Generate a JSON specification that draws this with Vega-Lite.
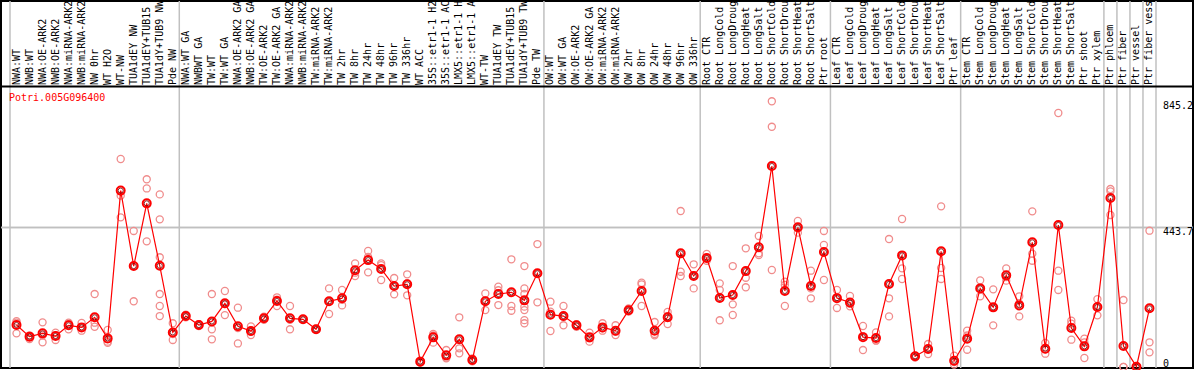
{
  "$schema": "https://vega.github.io/schema/vega-lite/v6.json",
  "width": 1192,
  "height": 367,
  "autosize": {"type": "none"},
  "padding": {"left": 1, "top": 1, "right": 1, "bottom": 2},
  "background": "white",
  "config": {"view": {"stroke": "black", "strokeWidth": 2}, "font": "DejaVu Sans Mono"},
  "params": [
    {"name": "cats", "value": ["NWA:WT","NWB:WT","NWA:OE-ARK2","NWB:OE-ARK2","NWA:miRNA-ARK2","NWB:miRNA-ARK2","NW 0hr","WT H2O","WT-NW","TUA1dEY NW","TUA1dEY+TUB15 NW","TUA1dY+TUB9 NW","Pde NW","NWA:WT GA","NWBWT GA","TW:WT","TW:WT GA","NWA:OE-ARK2 GA","NWB:OE-ARK2 GA","TW:OE-ARK2","TW:OE-ARK2 GA","NWA:miRNA-ARK2 GA","NWB:miRNA-ARK2 GA","TW:miRNA-ARK2","TW:miRNA-ARK2 GA","TW 2hr","TW 8hr","TW 24hr","TW 48hr","TW 96hr","TW 336hr","WT ACC","35S::etr1-1 H2O","35S::etr1-1 ACC","LMX5::etr1-1 H2O","LMX5::etr1-1 ACC","WT-TW","TUA1dEY TW","TUA1dEY+TUB15 TW","TUA1dY+TUB9 TW","Pde TW","OW:WT","OW:WT GA","OW:OE-ARK2","OW:OE-ARK2 GA","OW:miRNA-ARK2","OW:miRNA-ARK2 GA","OW 2hr","OW 8hr","OW 24hr","OW 48hr","OW 96hr","OW 336hr","Root CTR","Root LongCold","Root LongDrought","Root LongHeat","Root LongSalt","Root ShortCold","Root ShortDrought","Root ShortHeat","Root ShortSalt","Ptr root","Leaf CTR","Leaf LongCold","Leaf LongDrought","Leaf LongHeat","Leaf LongSalt","Leaf ShortCold","Leaf ShortDrought","Leaf ShortHeat","Leaf ShortSalt","Ptr leaf","Stem CTR","Stem LongCold","Stem LongDrought","Stem LongHeat","Stem LongSalt","Stem ShortCold","Stem ShortDrought","Stem ShortHeat","Stem ShortSalt","Ptr shoot","Ptr xylem","Ptr phloem","Ptr fiber","Ptr vessel","Ptr fiber vessel"]}
  ],
  "datasets": {
    "seps": [{"c": "NWA:WT"}, {"c": "NWA:WT GA"}, {"c": "OW:WT"}, {"c": "Root CTR"}, {"c": "Leaf CTR"}, {"c": "Stem CTR"}, {"c": "Ptr phloem"}, {"c": "Ptr fiber"}, {"c": "Ptr vessel"}, {"c": "Ptr fiber vessel"}],
    "lastsep": [{"c": "Ptr fiber vessel"}],
    "gene": [{"c": "NWA:WT", "t": "Potri.005G096400"}],
    "ylabs": [{"v": 443.7, "lab": "443.7"}, {"v": 845.2, "lab": "845.2"}],
    "ylab0": [{"v": 0, "lab": "0"}],
    "means": [
      {"c": "NWA:WT", "v": 133.6}, {"c": "NWB:WT", "v": 96.5}, {"c": "NWA:OE-ARK2", "v": 107}, {"c": "NWB:OE-ARK2", "v": 98.6},
      {"c": "NWA:miRNA-ARK2", "v": 132.6}, {"c": "NWB:miRNA-ARK2", "v": 126}, {"c": "NW 0hr", "v": 158}, {"c": "WT H2O", "v": 91},
      {"c": "WT-NW", "v": 561}, {"c": "TUA1dEY NW", "v": 321}, {"c": "TUA1dEY+TUB15 NW", "v": 520.5}, {"c": "TUA1dY+TUB9 NW", "v": 322},
      {"c": "Pde NW", "v": 110}, {"c": "NWA:WT GA", "v": 162}, {"c": "NWBWT GA", "v": 133.6}, {"c": "TW:WT", "v": 145},
      {"c": "TW:WT GA", "v": 202.5}, {"c": "NWA:OE-ARK2 GA", "v": 129.4}, {"c": "NWB:OE-ARK2 GA", "v": 114.5}, {"c": "TW:OE-ARK2", "v": 154.8},
      {"c": "TW:OE-ARK2 GA", "v": 210}, {"c": "NWA:miRNA-ARK2 GA", "v": 154.8}, {"c": "NWB:miRNA-ARK2 GA", "v": 151.6}, {"c": "TW:miRNA-ARK2", "v": 120},
      {"c": "TW:miRNA-ARK2 GA", "v": 208.9}, {"c": "TW 2hr", "v": 218.4}, {"c": "TW 8hr", "v": 307.5}, {"c": "TW 24hr", "v": 340},
      {"c": "TW 48hr", "v": 311.7}, {"c": "TW 96hr", "v": 257.6}, {"c": "TW 336hr", "v": 263}, {"c": "WT ACC", "v": 17},
      {"c": "35S::etr1-1 H2O", "v": 94.3}, {"c": "35S::etr1-1 ACC", "v": 37}, {"c": "LMX5::etr1-1 H2O", "v": 88}, {"c": "LMX5::etr1-1 ACC", "v": 22},
      {"c": "WT-TW", "v": 208.9}, {"c": "TUA1dEY TW", "v": 232}, {"c": "TUA1dEY+TUB15 TW", "v": 237.5}, {"c": "TUA1dY+TUB9 TW", "v": 212},
      {"c": "Pde TW", "v": 298}, {"c": "OW:WT", "v": 166.3}, {"c": "OW:WT GA", "v": 162}, {"c": "OW:OE-ARK2", "v": 132.6},
      {"c": "OW:OE-ARK2 GA", "v": 94.3}, {"c": "OW:miRNA-ARK2", "v": 126}, {"c": "OW:miRNA-ARK2 GA", "v": 115.5}, {"c": "OW 2hr", "v": 180.3},
      {"c": "OW 8hr", "v": 241.7}, {"c": "OW 24hr", "v": 115.5}, {"c": "OW 48hr", "v": 158}, {"c": "OW 96hr", "v": 361.5},
      {"c": "OW 336hr", "v": 289.4}, {"c": "Root CTR", "v": 346.7}, {"c": "Root LongCold", "v": 219.5}, {"c": "Root LongDrought", "v": 229},
      {"c": "Root LongHeat", "v": 305}, {"c": "Root LongSalt", "v": 380.6}, {"c": "Root ShortCold", "v": 639.3}, {"c": "Root ShortDrought", "v": 241.7},
      {"c": "Root ShortHeat", "v": 444.3}, {"c": "Root ShortSalt", "v": 257.6}, {"c": "Ptr root", "v": 365.8}, {"c": "Leaf CTR", "v": 219},
      {"c": "Leaf LongCold", "v": 205}, {"c": "Leaf LongDrought", "v": 95}, {"c": "Leaf LongHeat", "v": 92}, {"c": "Leaf LongSalt", "v": 264},
      {"c": "Leaf ShortCold", "v": 355}, {"c": "Leaf ShortDrought", "v": 34}, {"c": "Leaf ShortHeat", "v": 57.3}, {"c": "Leaf ShortSalt", "v": 368},
      {"c": "Ptr leaf", "v": 20}, {"c": "Stem CTR", "v": 90}, {"c": "Stem LongCold", "v": 250}, {"c": "Stem LongDrought", "v": 189.7},
      {"c": "Stem LongHeat", "v": 291.5}, {"c": "Stem LongSalt", "v": 196}, {"c": "Stem ShortCold", "v": 396.5}, {"c": "Stem ShortDrought", "v": 58.3},
      {"c": "Stem ShortHeat", "v": 451.6}, {"c": "Stem ShortSalt", "v": 124}, {"c": "Ptr shoot", "v": 65.7}, {"c": "Ptr xylem", "v": 190.8},
      {"c": "Ptr phloem", "v": 537.5}, {"c": "Ptr fiber", "v": 66.8}, {"c": "Ptr vessel", "v": 1}, {"c": "Ptr fiber vessel", "v": 186.6}
    ],
    "reps": [
      {"c": "NWA:WT", "v": 146}, {"c": "NWA:WT", "v": 141}, {"c": "NWA:WT", "v": 107},
      {"c": "NWB:WT", "v": 100.7}, {"c": "NWB:WT", "v": 96}, {"c": "NWB:WT", "v": 89},
      {"c": "NWA:OE-ARK2", "v": 142}, {"c": "NWA:OE-ARK2", "v": 100.5}, {"c": "NWA:OE-ARK2", "v": 78.5},
      {"c": "NWB:OE-ARK2", "v": 109}, {"c": "NWB:OE-ARK2", "v": 100}, {"c": "NWB:OE-ARK2", "v": 86},
      {"c": "NWA:miRNA-ARK2", "v": 141}, {"c": "NWA:miRNA-ARK2", "v": 137}, {"c": "NWA:miRNA-ARK2", "v": 120},
      {"c": "NWB:miRNA-ARK2", "v": 140}, {"c": "NWB:miRNA-ARK2", "v": 127}, {"c": "NWB:miRNA-ARK2", "v": 115.5},
      {"c": "NW 0hr", "v": 232}, {"c": "NW 0hr", "v": 141}, {"c": "NW 0hr", "v": 128},
      {"c": "WT H2O", "v": 117.7}, {"c": "WT H2O", "v": 80.6}, {"c": "WT H2O", "v": 77},
      {"c": "WT-NW", "v": 661.6}, {"c": "WT-NW", "v": 545}, {"c": "WT-NW", "v": 476},
      {"c": "TUA1dEY NW", "v": 432.6}, {"c": "TUA1dEY NW", "v": 321.4}, {"c": "TUA1dEY NW", "v": 209},
      {"c": "TUA1dEY+TUB15 NW", "v": 597}, {"c": "TUA1dEY+TUB15 NW", "v": 568}, {"c": "TUA1dEY+TUB15 NW", "v": 399.6},
      {"c": "TUA1dY+TUB9 NW", "v": 549}, {"c": "TUA1dY+TUB9 NW", "v": 469.6}, {"c": "TUA1dY+TUB9 NW", "v": 349}, {"c": "TUA1dY+TUB9 NW", "v": 232}, {"c": "TUA1dY+TUB9 NW", "v": 194}, {"c": "TUA1dY+TUB9 NW", "v": 162},
      {"c": "Pde NW", "v": 139}, {"c": "Pde NW", "v": 105}, {"c": "Pde NW", "v": 86},
      {"c": "NWA:WT GA", "v": 158}, {"c": "NWA:WT GA", "v": 162}, {"c": "NWA:WT GA", "v": 166},
      {"c": "NWBWT GA", "v": 136}, {"c": "NWBWT GA", "v": 130}, {"c": "NWBWT GA", "v": 135},
      {"c": "TW:WT", "v": 232}, {"c": "TW:WT", "v": 120}, {"c": "TW:WT", "v": 88},
      {"c": "TW:WT GA", "v": 241.7}, {"c": "TW:WT GA", "v": 200}, {"c": "TW:WT GA", "v": 165},
      {"c": "NWA:OE-ARK2 GA", "v": 188.7}, {"c": "NWA:OE-ARK2 GA", "v": 124}, {"c": "NWA:OE-ARK2 GA", "v": 75},
      {"c": "NWB:OE-ARK2 GA", "v": 129}, {"c": "NWB:OE-ARK2 GA", "v": 112}, {"c": "NWB:OE-ARK2 GA", "v": 101.8},
      {"c": "TW:OE-ARK2", "v": 150}, {"c": "TW:OE-ARK2", "v": 155}, {"c": "TW:OE-ARK2", "v": 160},
      {"c": "TW:OE-ARK2 GA", "v": 221.6}, {"c": "TW:OE-ARK2 GA", "v": 214}, {"c": "TW:OE-ARK2 GA", "v": 194},
      {"c": "NWA:miRNA-ARK2 GA", "v": 194}, {"c": "NWA:miRNA-ARK2 GA", "v": 150}, {"c": "NWA:miRNA-ARK2 GA", "v": 120},
      {"c": "NWB:miRNA-ARK2 GA", "v": 150}, {"c": "NWB:miRNA-ARK2 GA", "v": 152}, {"c": "NWB:miRNA-ARK2 GA", "v": 153},
      {"c": "TW:miRNA-ARK2", "v": 118}, {"c": "TW:miRNA-ARK2", "v": 120}, {"c": "TW:miRNA-ARK2", "v": 122},
      {"c": "TW:miRNA-ARK2 GA", "v": 250}, {"c": "TW:miRNA-ARK2 GA", "v": 208}, {"c": "TW:miRNA-ARK2 GA", "v": 168.6},
      {"c": "TW 2hr", "v": 245}, {"c": "TW 2hr", "v": 214}, {"c": "TW 2hr", "v": 196},
      {"c": "TW 8hr", "v": 329.7}, {"c": "TW 8hr", "v": 300}, {"c": "TW 8hr", "v": 289.4},
      {"c": "TW 24hr", "v": 369}, {"c": "TW 24hr", "v": 350}, {"c": "TW 24hr", "v": 301},
      {"c": "TW 48hr", "v": 329.7}, {"c": "TW 48hr", "v": 324}, {"c": "TW 48hr", "v": 276.7},
      {"c": "TW 96hr", "v": 283}, {"c": "TW 96hr", "v": 258}, {"c": "TW 96hr", "v": 231},
      {"c": "TW 336hr", "v": 294.8}, {"c": "TW 336hr", "v": 266}, {"c": "TW 336hr", "v": 228},
      {"c": "WT ACC", "v": 20}, {"c": "WT ACC", "v": 17}, {"c": "WT ACC", "v": 14},
      {"c": "35S::etr1-1 H2O", "v": 105}, {"c": "35S::etr1-1 H2O", "v": 100}, {"c": "35S::etr1-1 H2O", "v": 77.5},
      {"c": "35S::etr1-1 ACC", "v": 54}, {"c": "35S::etr1-1 ACC", "v": 30}, {"c": "35S::etr1-1 ACC", "v": 27.6},
      {"c": "LMX5::etr1-1 H2O", "v": 158}, {"c": "LMX5::etr1-1 H2O", "v": 59.4}, {"c": "LMX5::etr1-1 H2O", "v": 43.5},
      {"c": "LMX5::etr1-1 ACC", "v": 27}, {"c": "LMX5::etr1-1 ACC", "v": 21}, {"c": "LMX5::etr1-1 ACC", "v": 18},
      {"c": "WT-TW", "v": 234}, {"c": "WT-TW", "v": 211}, {"c": "WT-TW", "v": 181},
      {"c": "TUA1dEY TW", "v": 255.5}, {"c": "TUA1dEY TW", "v": 244}, {"c": "TUA1dEY TW", "v": 197},
      {"c": "TUA1dEY+TUB15 TW", "v": 342.5}, {"c": "TUA1dEY+TUB15 TW", "v": 194}, {"c": "TUA1dEY+TUB15 TW", "v": 179},
      {"c": "TUA1dY+TUB9 TW", "v": 321}, {"c": "TUA1dY+TUB9 TW", "v": 250}, {"c": "TUA1dY+TUB9 TW", "v": 232}, {"c": "TUA1dY+TUB9 TW", "v": 192}, {"c": "TUA1dY+TUB9 TW", "v": 181}, {"c": "TUA1dY+TUB9 TW", "v": 149}, {"c": "TUA1dY+TUB9 TW", "v": 139},
      {"c": "Pde TW", "v": 391}, {"c": "Pde TW", "v": 298}, {"c": "Pde TW", "v": 205.7},
      {"c": "OW:WT", "v": 207.8}, {"c": "OW:WT", "v": 176}, {"c": "OW:WT", "v": 114.5},
      {"c": "OW:WT GA", "v": 194}, {"c": "OW:WT GA", "v": 160}, {"c": "OW:WT GA", "v": 132.6},
      {"c": "OW:OE-ARK2", "v": 136}, {"c": "OW:OE-ARK2", "v": 134}, {"c": "OW:OE-ARK2", "v": 128},
      {"c": "OW:OE-ARK2 GA", "v": 109}, {"c": "OW:OE-ARK2 GA", "v": 91}, {"c": "OW:OE-ARK2 GA", "v": 80.6},
      {"c": "OW:miRNA-ARK2", "v": 139}, {"c": "OW:miRNA-ARK2", "v": 123}, {"c": "OW:miRNA-ARK2", "v": 115.5},
      {"c": "OW:miRNA-ARK2 GA", "v": 132.6}, {"c": "OW:miRNA-ARK2 GA", "v": 112}, {"c": "OW:miRNA-ARK2 GA", "v": 101.8},
      {"c": "OW 2hr", "v": 186}, {"c": "OW 2hr", "v": 180}, {"c": "OW 2hr", "v": 176},
      {"c": "OW 8hr", "v": 268}, {"c": "OW 8hr", "v": 263}, {"c": "OW 8hr", "v": 194},
      {"c": "OW 24hr", "v": 143}, {"c": "OW 24hr", "v": 105}, {"c": "OW 24hr", "v": 101},
      {"c": "OW 48hr", "v": 175}, {"c": "OW 48hr", "v": 162}, {"c": "OW 48hr", "v": 136.8},
      {"c": "OW 96hr", "v": 496}, {"c": "OW 96hr", "v": 303}, {"c": "OW 96hr", "v": 289.4},
      {"c": "OW 336hr", "v": 326.6}, {"c": "OW 336hr", "v": 292}, {"c": "OW 336hr", "v": 250},
      {"c": "Root CTR", "v": 359.4}, {"c": "Root CTR", "v": 345}, {"c": "Root CTR", "v": 338},
      {"c": "Root LongCold", "v": 266}, {"c": "Root LongCold", "v": 245}, {"c": "Root LongCold", "v": 148.5},
      {"c": "Root LongDrought", "v": 321}, {"c": "Root LongDrought", "v": 199.3}, {"c": "Root LongDrought", "v": 165.4},
      {"c": "Root LongHeat", "v": 377.5}, {"c": "Root LongHeat", "v": 284}, {"c": "Root LongHeat", "v": 253.5},
      {"c": "Root LongSalt", "v": 416.7}, {"c": "Root LongSalt", "v": 361.5}, {"c": "Root LongSalt", "v": 356.2},
      {"c": "Root ShortCold", "v": 845.2}, {"c": "Root ShortCold", "v": 764}, {"c": "Root ShortCold", "v": 308.5},
      {"c": "Root ShortDrought", "v": 271.4}, {"c": "Root ShortDrought", "v": 260.8}, {"c": "Root ShortDrought", "v": 194},
      {"c": "Root ShortHeat", "v": 464.4}, {"c": "Root ShortHeat", "v": 441}, {"c": "Root ShortHeat", "v": 427.3},
      {"c": "Root ShortSalt", "v": 306.4}, {"c": "Root ShortSalt", "v": 250}, {"c": "Root ShortSalt", "v": 218.4},
      {"c": "Ptr root", "v": 432.6}, {"c": "Ptr root", "v": 388}, {"c": "Ptr root", "v": 276.7},
      {"c": "Leaf CTR", "v": 245}, {"c": "Leaf CTR", "v": 222}, {"c": "Leaf CTR", "v": 187.7},
      {"c": "Leaf LongCold", "v": 225.8}, {"c": "Leaf LongCold", "v": 201}, {"c": "Leaf LongCold", "v": 193},
      {"c": "Leaf LongDrought", "v": 130.4}, {"c": "Leaf LongDrought", "v": 98}, {"c": "Leaf LongDrought", "v": 54},
      {"c": "Leaf LongHeat", "v": 110}, {"c": "Leaf LongHeat", "v": 85}, {"c": "Leaf LongHeat", "v": 83.7},
      {"c": "Leaf LongSalt", "v": 407}, {"c": "Leaf LongSalt", "v": 218.4}, {"c": "Leaf LongSalt", "v": 161},
      {"c": "Leaf ShortCold", "v": 470.7}, {"c": "Leaf ShortCold", "v": 313.8}, {"c": "Leaf ShortCold", "v": 279.9},
      {"c": "Leaf ShortDrought", "v": 36}, {"c": "Leaf ShortDrought", "v": 34}, {"c": "Leaf ShortDrought", "v": 30},
      {"c": "Leaf ShortHeat", "v": 73}, {"c": "Leaf ShortHeat", "v": 57}, {"c": "Leaf ShortHeat", "v": 41.3},
      {"c": "Leaf ShortSalt", "v": 511}, {"c": "Leaf ShortSalt", "v": 315}, {"c": "Leaf ShortSalt", "v": 280},
      {"c": "Ptr leaf", "v": 36}, {"c": "Ptr leaf", "v": 16}, {"c": "Ptr leaf", "v": 8},
      {"c": "Stem CTR", "v": 115.6}, {"c": "Stem CTR", "v": 100}, {"c": "Stem CTR", "v": 55},
      {"c": "Stem LongCold", "v": 275.6}, {"c": "Stem LongCold", "v": 250}, {"c": "Stem LongCold", "v": 224.8},
      {"c": "Stem LongDrought", "v": 247}, {"c": "Stem LongDrought", "v": 190}, {"c": "Stem LongDrought", "v": 132.5},
      {"c": "Stem LongHeat", "v": 313.8}, {"c": "Stem LongHeat", "v": 286}, {"c": "Stem LongHeat", "v": 274.6},
      {"c": "Stem LongSalt", "v": 224.8}, {"c": "Stem LongSalt", "v": 202}, {"c": "Stem LongSalt", "v": 161},
      {"c": "Stem ShortCold", "v": 495}, {"c": "Stem ShortCold", "v": 360.5}, {"c": "Stem ShortCold", "v": 338},
      {"c": "Stem ShortDrought", "v": 76.3}, {"c": "Stem ShortDrought", "v": 56}, {"c": "Stem ShortDrought", "v": 42.4},
      {"c": "Stem ShortHeat", "v": 807.9}, {"c": "Stem ShortHeat", "v": 306.4}, {"c": "Stem ShortHeat", "v": 245},
      {"c": "Stem ShortSalt", "v": 147.4}, {"c": "Stem ShortSalt", "v": 138}, {"c": "Stem ShortSalt", "v": 86.9},
      {"c": "Ptr shoot", "v": 90}, {"c": "Ptr shoot", "v": 78}, {"c": "Ptr shoot", "v": 28.6},
      {"c": "Ptr xylem", "v": 216}, {"c": "Ptr xylem", "v": 192}, {"c": "Ptr xylem", "v": 164.3},
      {"c": "Ptr phloem", "v": 566}, {"c": "Ptr phloem", "v": 558.7}, {"c": "Ptr phloem", "v": 483.5},
      {"c": "Ptr fiber", "v": 213}, {"c": "Ptr fiber", "v": 0}, {"c": "Ptr fiber", "v": 0},
      {"c": "Ptr vessel", "v": 3}, {"c": "Ptr vessel", "v": 0}, {"c": "Ptr vessel", "v": 0},
      {"c": "Ptr fiber vessel", "v": 433.6}, {"c": "Ptr fiber vessel", "v": 78.5}, {"c": "Ptr fiber vessel", "v": 46.6}
    ]
  },
  "layer": [
    {
      "data": {"name": "seps"},
      "mark": {"type": "rule", "color": "#c0c0c0", "strokeWidth": 1.5},
      "encoding": {
        "x": {"field": "c", "type": "nominal", "bandPosition": 0, "axis": null,
          "scale": {"type": "band", "domain": {"expr": "cats"}, "range": [9, 1155], "paddingInner": 0, "paddingOuter": 0}}
      }
    },
    {
      "data": {"name": "lastsep"},
      "mark": {"type": "rule", "color": "#c0c0c0", "strokeWidth": 1.5},
      "encoding": {
        "x": {"field": "c", "type": "nominal", "bandPosition": 1, "axis": null}
      }
    },
    {
      "data": {"name": "ylabs"},
      "mark": {"type": "rule", "color": "#c0c0c0", "strokeWidth": 1.5},
      "encoding": {
        "y": {"datum": 443.7, "type": "quantitative", "axis": null,
          "scale": {"domain": [-3.18, 1164.1], "nice": false, "zero": false}}
      }
    },
    {
      "data": {"name": "ylab0"},
      "mark": {"type": "rule", "color": "black", "strokeWidth": 2},
      "encoding": {
        "y": {"datum": 892.2, "type": "quantitative", "axis": null}
      }
    },
    {
      "data": {"name": "means"},
      "mark": {"type": "text", "angle": 270, "align": "left", "baseline": "middle", "color": "black", "font": "DejaVu Sans Mono", "fontSize": 10},
      "encoding": {
        "x": {"field": "c", "type": "nominal", "axis": null},
        "y": {"datum": 897, "type": "quantitative", "axis": null},
        "text": {"field": "c"}
      }
    },
    {
      "data": {"name": "ylabs"},
      "mark": {"type": "text", "align": "left", "baseline": "top", "color": "black", "font": "DejaVu Sans Mono", "fontSize": 10, "dx": 7},
      "encoding": {
        "x": {"datum": "Ptr fiber vessel", "type": "nominal", "bandPosition": 1, "axis": null},
        "y": {"field": "v", "type": "quantitative", "axis": null},
        "text": {"field": "lab"}
      }
    },
    {
      "data": {"name": "ylab0"},
      "mark": {"type": "text", "align": "left", "baseline": "alphabetic", "color": "black", "font": "DejaVu Sans Mono", "fontSize": 10, "dx": 7},
      "encoding": {
        "x": {"datum": "Ptr fiber vessel", "type": "nominal", "bandPosition": 1, "axis": null},
        "y": {"field": "v", "type": "quantitative", "axis": null},
        "text": {"field": "lab"}
      }
    },
    {
      "data": {"name": "reps"},
      "mark": {"type": "point", "shape": "circle", "filled": false, "color": "#f08c8c", "size": 50, "strokeWidth": 1.3, "opacity": 1},
      "encoding": {
        "x": {"field": "c", "type": "nominal", "axis": null},
        "y": {"field": "v", "type": "quantitative", "axis": null}
      }
    },
    {
      "data": {"name": "means"},
      "mark": {"type": "line", "color": "#ff0000", "strokeWidth": 1.2},
      "encoding": {
        "x": {"field": "c", "type": "nominal", "axis": null},
        "y": {"field": "v", "type": "quantitative", "axis": null},
        "order": {"value": null}
      }
    },
    {
      "data": {"name": "means"},
      "mark": {"type": "point", "shape": "circle", "filled": false, "color": "#ff0000", "size": 64, "strokeWidth": 2, "opacity": 1},
      "encoding": {
        "x": {"field": "c", "type": "nominal", "axis": null},
        "y": {"field": "v", "type": "quantitative", "axis": null}
      }
    },
    {
      "data": {"name": "means"},
      "mark": {"type": "point", "shape": "circle", "filled": false, "color": "#700000", "size": 26, "strokeWidth": 0.8, "opacity": 1},
      "encoding": {
        "x": {"field": "c", "type": "nominal", "axis": null},
        "y": {"field": "v", "type": "quantitative", "axis": null}
      }
    },
    {
      "data": {"name": "gene"},
      "mark": {"type": "text", "align": "left", "baseline": "alphabetic", "color": "#ff0000", "font": "DejaVu Sans Mono", "fontSize": 10, "dx": -1},
      "encoding": {
        "x": {"field": "c", "type": "nominal", "bandPosition": 0, "axis": null},
        "y": {"datum": 846, "type": "quantitative", "axis": null},
        "text": {"field": "t"}
      }
    }
  ]
}
